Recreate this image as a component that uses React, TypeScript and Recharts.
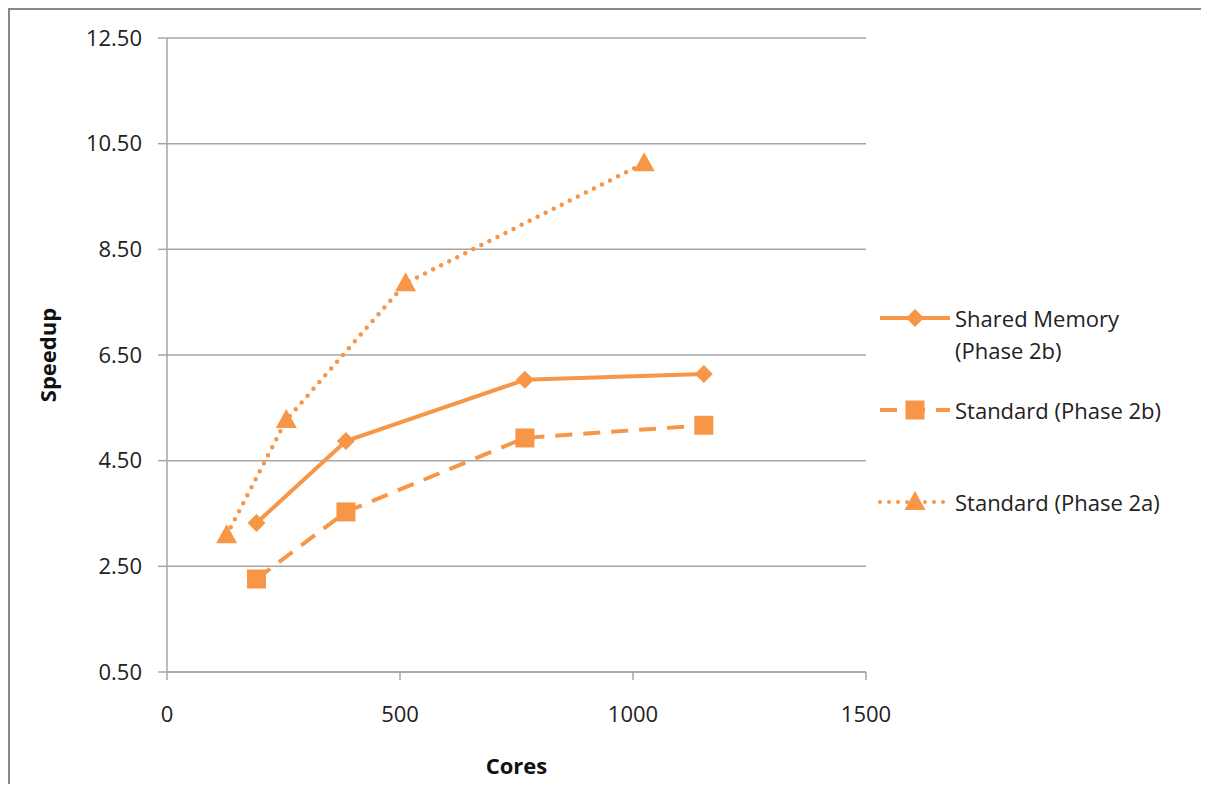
import React from "react";
import { LineChart, Line, XAxis, YAxis, CartesianGrid } from "recharts";

// Speedup vs cores
const sharedMemory2b = [
  { cores: 192, speedup: 3.32 },
  { cores: 384, speedup: 4.87 },
  { cores: 768, speedup: 6.03 },
  { cores: 1152, speedup: 6.14 },
];
const standard2b = [
  { cores: 192, speedup: 2.26 },
  { cores: 384, speedup: 3.53 },
  { cores: 768, speedup: 4.93 },
  { cores: 1152, speedup: 5.17 },
];
const standard2a = [
  { cores: 128, speedup: 3.09 },
  { cores: 256, speedup: 5.27 },
  { cores: 512, speedup: 7.86 },
  { cores: 1024, speedup: 10.13 },
];
const xTicks = [0, 500, 1000, 1500];
const yTicks = [0.5, 2.5, 4.5, 6.5, 8.5, 10.5, 12.5];

const ORANGE = "#F79646";
const FONT = "'Open Sans', sans-serif";

const Diamond = (props: any) => {
  const { cx, cy } = props;
  if (cx == null || cy == null) return null;
  const r = 9;
  return <path d={`M${cx},${cy - r}L${cx + r},${cy}L${cx},${cy + r}L${cx - r},${cy}Z`} fill={ORANGE} />;
};
const Square = (props: any) => {
  const { cx, cy } = props;
  if (cx == null || cy == null) return null;
  return <rect x={cx - 9.5} y={cy - 9.5} width={19} height={19} fill={ORANGE} />;
};
const Triangle = (props: any) => {
  const { cx, cy } = props;
  if (cx == null || cy == null) return null;
  return <path d={`M${cx},${cy - 11}L${cx + 10.5},${cy + 8}L${cx - 10.5},${cy + 8}Z`} fill={ORANGE} />;
};

function LegendRow({ top, dash, marker, lines }: { top: number; dash?: string; marker: string; lines: string[] }) {
  return (
    <div style={{ position: "absolute", left: 866, top, display: "flex", alignItems: "flex-start" }}>
      <svg width={80} height={32} style={{ flex: "none" }}>
        <line x1={4} y1={16} x2={74} y2={16} stroke={ORANGE} strokeWidth={4}
          strokeDasharray={dash} strokeLinecap={dash === "0 9" ? "round" : "butt"} />
        {marker === "diamond" && <path d="M39,7L48,16L39,25L30,16Z" fill={ORANGE} />}
        {marker === "square" && <rect x={29.5} y={6.5} width={19} height={19} fill={ORANGE} />}
        {marker === "triangle" && <path d="M39,5L49.5,24L28.5,24Z" fill={ORANGE} />}
      </svg>
      <div style={{ fontFamily: FONT, fontSize: 22, lineHeight: "32px", color: "#222", marginLeft: -1 }}>
        {lines.map((l) => <div key={l}>{l}</div>)}
      </div>
    </div>
  );
}

export default function App() {
  return (
    <div style={{ position: "relative", width: 1191, height: 774, overflow: "hidden", borderLeft: "2px solid #888", borderTop: "2px solid #888", background: "#fff" }}>
      <LineChart width={1191} height={774} margin={{ top: 28, right: 335, bottom: 0, left: 0 }}>
        <CartesianGrid horizontal vertical={false} stroke="#a6a6a6" strokeWidth={1.5} />
        <XAxis
          type="number"
          dataKey="cores"
          domain={[0, 1500]}
          ticks={xTicks}
          allowDuplicatedCategory={false}
          height={112}
          stroke="#a6a6a6"
          strokeWidth={1.5}
          tickSize={8}
          tickMargin={26}
          tick={{ fill: "#222", fontFamily: FONT, fontSize: 22 }}
          label={{ value: "Cores", position: "insideBottom", offset: 10, style: { fontFamily: FONT, fontSize: 22, fontWeight: 700, fill: "#111" } }}
        />
        <YAxis
          type="number"
          domain={[0.5, 12.5]}
          ticks={yTicks}
          width={157}
          stroke="#a6a6a6"
          strokeWidth={1.5}
          tickSize={9}
          tickMargin={16}
          tickFormatter={(v) => Number(v).toFixed(2)}
          tick={{ fill: "#222", fontFamily: FONT, fontSize: 22 }}
          label={{ value: "Speedup", angle: -90, position: "insideLeft", offset: 38, style: { textAnchor: "middle", fontFamily: FONT, fontSize: 22, fontWeight: 700, fill: "#111" } }}
        />
        <Line data={sharedMemory2b} dataKey="speedup" name="Shared Memory (Phase 2b)" type="linear"
          stroke={ORANGE} strokeWidth={4} dot={<Diamond />} isAnimationActive={false} />
        <Line data={standard2b} dataKey="speedup" name="Standard (Phase 2b)" type="linear"
          stroke={ORANGE} strokeWidth={4} strokeDasharray="17 11" dot={<Square />} isAnimationActive={false} />
        <Line data={standard2a} dataKey="speedup" name="Standard (Phase 2a)" type="linear"
          stroke={ORANGE} strokeWidth={4.5} strokeDasharray="0 9" strokeLinecap="round" dot={<Triangle />} isAnimationActive={false} />
      </LineChart>
      <LegendRow top={292} marker="diamond" lines={["Shared Memory", "(Phase 2b)"]} />
      <LegendRow top={384} dash="17 11" marker="square" lines={["Standard (Phase 2b)"]} />
      <LegendRow top={476} dash="0 9" marker="triangle" lines={["Standard (Phase 2a)"]} />
    </div>
  );
}
